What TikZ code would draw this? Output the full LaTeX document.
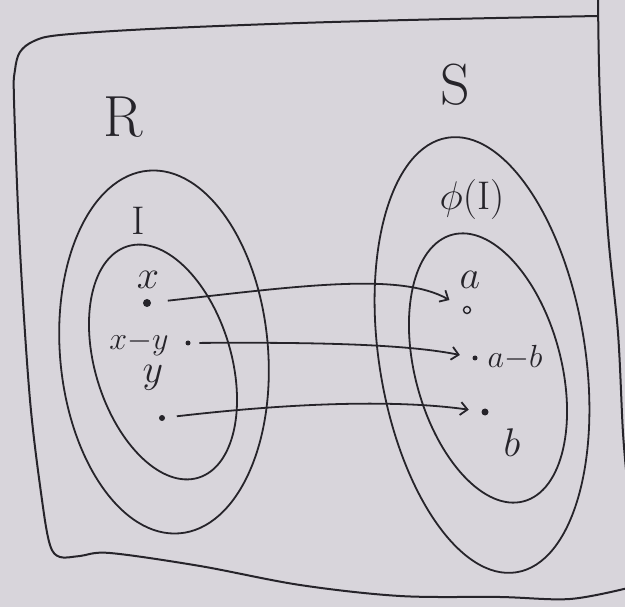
\RequirePackage{fix-cm}
\documentclass[tikz,border=0pt]{standalone}
\usetikzlibrary{arrows.meta,shapes.geometric}
\definecolor{paper}{RGB}{216,213,219}
\definecolor{ink}{RGB}{38,36,42}
\begin{document}
\begin{tikzpicture}[x=1pt,y=-1pt,>={Straight Barb[length=7pt,width=13pt]},line width=1.8pt,
  oval/.style={draw=ink,ellipse,inner sep=0pt},
  dotf/.style={circle,fill=ink,inner sep=0pt,minimum size=#1},
  ring/.style={circle,draw=ink,line width=1.4pt,inner sep=0pt,minimum size=7pt},
  biglab/.style={text=ink,inner sep=0pt,font=\fontsize{58}{62}\selectfont},
  setlab/.style={text=ink,inner sep=0pt,font=\fontsize{40}{44}\selectfont},
  ptlab/.style={text=ink,inner sep=0pt,font=\fontsize{40}{44}\selectfont},
  difflab/.style={text=ink,inner sep=0pt,font=\fontsize{32}{36}\selectfont},
  map/.style={->,draw=ink,line width=1.8pt}]
  \useasboundingbox (0,0) rectangle (625,607);
  \clip (0,0) rectangle (625,607);
  \fill[paper] (0,0) rectangle (625,607);
  % frame
  \draw[ink,line width=2pt] plot[smooth,tension=.55] coordinates {(598,-3) (600,100) (608,233) (618,333) (623,433) (628,490)};
  \draw[ink,line width=2pt] plot[smooth,tension=.55] coordinates {(598,16) (450,19) (300,23) (150,29) (60,35) (34,41) (20,52) (15,70) (14,100) (20,250) (30,400) (42,500) (50,545) (60,557) (80,556) (110,553) (200,566) (300,585) (400,596) (500,597) (570,599) (628,588)};
  % sets
  \node[oval,minimum width=208,minimum height=364,rotate=5] (Rset) at (164,352) {};
  \node[oval,minimum width=136,minimum height=242,rotate=17] (Iset) at (163,362) {};
  \node[oval,minimum width=206,minimum height=440,rotate=9] (Sset) at (482,355) {};
  \node[oval,minimum width=146,minimum height=276,rotate=15] (PhiI) at (488,368) {};
  \node[biglab] (Rlab) at (123,117) {$\mathrm{R}$};
  \node[biglab] (Slab) at (455,85) {$\mathrm{S}$};
  \node[setlab] (Ilab) at (138,221) {$\mathrm{I}$};
  \node[setlab] (Philab) at (472,200) {$\phi(\mathrm{I})$};
  % points of I
  \node[ptlab] (xlab) at (148,280) {$x$};
  \node[difflab] (xylab) at (139,343) {$x{-}y$};
  \node[ptlab] (ylab) at (153,378) {$y$};
  \node[dotf=8pt] (xdot) at (147,303) {};
  \node[dotf=5pt] (xydot) at (188,343) {};
  \node[dotf=6pt] (ydot) at (162,418) {};
  % images
  \node[ptlab] (alab) at (470,280) {$a$};
  \node[difflab] (ablab) at (515,358) {$a{-}b$};
  \node[ptlab] (blab) at (512,443) {$b$};
  \node[ring] (adot) at (467,310) {};
  \node[dotf=5pt] (abdot) at (475,358) {};
  \node[dotf=7pt] (bdot) at (485,412) {};
  \draw[map,shorten <=16pt,shorten >=16pt] (xdot) .. controls (300,286) and (400,272) .. (adot);
  \draw[map,shorten <=8pt,shorten >=12pt] (xydot) .. controls (330,342) and (410,345) .. (abdot);
  \draw[map,shorten <=11pt,shorten >=12pt] (ydot) .. controls (300,402) and (400,400) .. (bdot);
\end{tikzpicture}
\end{document}
